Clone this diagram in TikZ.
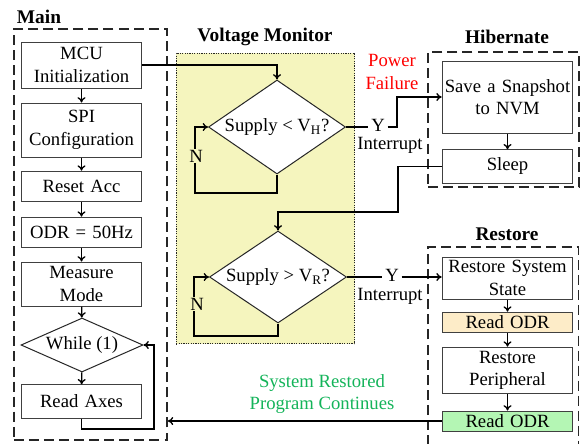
\documentclass[tikz,border=0pt]{standalone}
\usepackage{fontspec}
\setmainfont{Liberation Serif}
\usetikzlibrary{shapes.geometric,arrows.meta}
\definecolor{vmyellow}{RGB}{245,245,190}
\definecolor{odrcream}{RGB}{253,236,200}
\definecolor{odrgreen}{RGB}{180,246,180}
\definecolor{okgreen}{RGB}{20,180,90}
\begin{document}
\begin{tikzpicture}[x=0.75pt,y=-0.75pt,
  font=\fontsize{14}{17}\selectfont,
  box/.style={draw=black!75, line width=0.75pt, fill=white, align=center,
    inner sep=1pt, text width=#1},
  box/.default=88pt,
  rbox/.style={box=96pt},
  dia/.style={diamond, draw=black!85, line width=0.75pt, fill=white, inner sep=0pt},
  frame/.style={draw=black!85, line width=1.1pt, dash pattern=on 7.5pt off 3.8pt},
  title/.style={font=\fontsize{14.5}{17}\selectfont\bfseries},
  conn/.style={draw=black, line width=1pt},
  arr/.style={conn, -{To[length=4pt,width=6pt]}},
  lbl/.style={fill=white, inner xsep=2pt, inner ysep=0pt},
]
\clip (0,0) rectangle (580,443);
\fill[white] (0,0) rectangle (580,443);

% group frames
\node[frame, minimum width=115pt, minimum height=308pt] (mainf) at (90.5,234.5) {};
\node[draw=black!85, line width=0.8pt, dash pattern=on 0.9pt off 0.9pt, fill=vmyellow,
  minimum width=134pt, minimum height=218pt] (vmon) at (265.5,198.5) {};
\node[frame, minimum width=113pt, minimum height=101pt] (hib) at (503.5,119.5) {};
\draw[frame] (428,460) -- (428,247) -- (578.5,247) -- (578.5,460);

% group titles
\node[title] (tmain) at (39,17) {Main};
\node[title] (tvmon) at (265,37) {Voltage Monitor};
\node[title] (thib) at (507,37) {Hibernate};
\node[title] (trest) at (507,234) {Restore};

% main program
\node[box, minimum height=34.5pt] (mcu) at (81.5,65) {MCU\\Initialization};
\node[box, minimum height=40.5pt] (spi) at (81.5,130) {SPI\\Configuration};
\node[box, minimum height=23pt] (reset) at (81.5,186.5) {Reset Acc};
\node[box, minimum height=23pt] (odr) at (81.5,232.5) {ODR = 50Hz};
\node[box, minimum height=33pt] (meas) at (81.5,284) {Measure\\Mode};
\node[dia, minimum width=91.5pt, minimum height=40.5pt] (while) at (82,345) {};
\node (whilet) at (while.center) {While (1)};
\node[box, minimum height=25pt] (read) at (81.5,401.5) {Read Axes};

\draw[arr] (mcu) -- (spi);
\draw[arr] (spi) -- (reset);
\draw[arr] (reset) -- (odr);
\draw[arr] (odr) -- (meas);
\draw[arr] (meas) -- (while);
\draw[arr] (while) -- (read);
\coordinate (loopm) at (154,429);
\draw[arr] (read.south) |- (loopm) |- (while.east);

% voltage monitor
\node[dia, minimum width=102.75pt, minimum height=70.5pt] (d1) at (277,127) {};
\node (d1t) at (d1.center) {Supply < V\textsubscript{H}?};
\node[dia, minimum width=102.75pt, minimum height=69pt] (d2) at (278,277) {};
\node (d2t) at (d2.center) {Supply > V\textsubscript{R}?};

\draw[arr] (mcu.east) -| (d1.north);

\coordinate (n1) at (195,193);
\draw[arr] (d1.south) |- (n1) |- (d1.west);
\node[fill=vmyellow, inner sep=1pt] (n1t) at (196,156) {N};

\coordinate (n2) at (194,336);
\draw[arr] (d2.south) |- (n2) |- (d2.west);
\node[fill=vmyellow, inner sep=1pt] (n2t) at (197,304) {N};

% hibernate
\node[rbox, minimum height=54pt] (save) at (507.5,97) {Save a Snapshot\\to NVM};
\node[rbox, minimum height=25pt] (sleep) at (507.5,166.5) {Sleep};
\draw[arr] (save) -- (sleep);

\node[lbl] (y1) at (378,125) {Y};
\node[inner sep=0pt] (int1) at (390,145) {Interrupt};
\node[text=red, align=center, inner sep=0pt] (pf) at (392,72) {Power\\Failure};
\draw[conn] (d1.east) -- (d1.east -| y1.west);
\coordinate (t1) at (397,127);
\draw[arr] (y1.east |- t1) -- (t1) |- (save.west);

\coordinate (t2) at (398,212);
\draw[arr] (sleep.west) -| (t2) -| (d2.north);

% restore
\node[rbox, minimum height=31.5pt] (rss) at (507.5,278) {Restore System\\State};
\node[rbox, minimum height=15.5pt, fill=odrcream] (rodr1) at (507.5,322.5) {Read ODR};
\node[rbox, minimum height=35pt] (rper) at (507.5,370.5) {Restore\\Peripheral};
\node[rbox, minimum height=15pt, fill=odrgreen] (rodr2) at (507.5,421) {Read ODR};
\draw[arr] (rss) -- (rodr1);
\draw[arr] (rodr1) -- (rper);
\draw[arr] (rper) -- (rodr2);

\node[lbl] (y2) at (392,275) {Y};
\node[inner sep=0pt] (int2) at (390,296) {Interrupt};
\draw[conn] (d2.east) -- (d2.east -| y2.west);
\draw[arr] (y2.east |- d2.east) -- (d2.east -| rss.west);

\draw[arr] (rodr2.west) -- (rodr2.west -| mainf.east);
\node[text=okgreen, align=center, inner sep=0pt] (resumed) at (322,394) {System Restored\\Program Continues};
\end{tikzpicture}
\end{document}
